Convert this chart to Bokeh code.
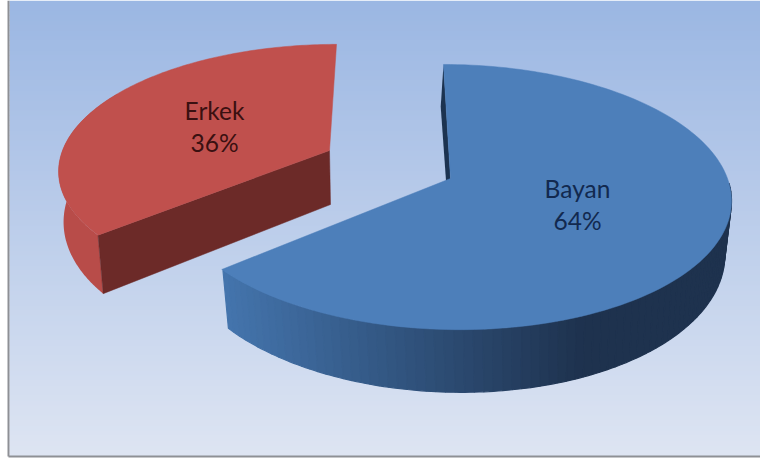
import numpy as np
from bokeh.plotting import figure
from bokeh.embed import file_html
from bokeh.resources import INLINE
from bokeh.core.properties import value

categories = ["Bayan", "Erkek"]
percents = [64, 36]

WIDTH, HEIGHT = 760, 459
TILT = 0.14  # perspective strength of the pie plane


def plane(cx, cy, rx, ry, shear):
    """Map unit-disc coordinates of one pie plane on to the page."""
    def project(u, v):
        w = 1 + TILT * v
        return cx + (rx * u + shear * v) / w, cy - ry * v / w
    return project


def rim(start, stop, n=140):
    ang = np.radians(np.linspace(start, stop, n))
    return np.sin(ang), np.cos(ang)


def wedge(project, start, stop):
    u, v = rim(start, stop)
    x, y = project(u, v)
    return np.r_[project(0, 0)[0], x], np.r_[project(0, 0)[1], y]


p = figure(width=WIDTH, height=HEIGHT, x_range=(0, WIDTH), y_range=(HEIGHT, 0),
           toolbar_location=None, output_backend="svg", min_border=0,
           outline_line_color=None)
p.axis.visible = False
p.grid.visible = False
p.background_fill_color = "white"

# Chart area: vertical gradient inside a thin grey frame
bg_top, bg_bot = np.array([155, 183, 227]), np.array([222, 229, 243])
L, R, B = 9, WIDTH, 455
edges = np.linspace(0, B, 92)
mix = (edges[:-1] + edges[1:]) / 2 / B
bg_cols = ["#%02x%02x%02x" % tuple(int(c) for c in bg_top + (bg_bot - bg_top) * m) for m in mix]
p.quad(left=L, right=R, top=edges[:-1], bottom=edges[1:] + 0.5,
       fill_color=bg_cols, line_color=None)
p.line([L - 1, L - 1], [0, B + 1], line_color="#8e9095", line_width=2)
p.line([L - 1, WIDTH], [B + 1, B + 1], line_color="#8e9095", line_width=2)

shares = np.array(percents) / sum(percents) * 360
a0, a1 = 0.0, float(shares[0])

# Bayan slice: top and bottom planes of the extruded disc
b_top = plane(450, 178, 277, 130, -8)
b_bot = plane(449, 229, 271, 140, -10)

# Inner wall seen as a thin sliver beside the top corner
wx = [b_top(0, 1)[0], b_top(0, 0)[0], b_bot(0, 0)[0], b_bot(0, 1)[0]]
wy = [b_top(0, 1)[1], b_top(0, 0)[1], b_bot(0, 0)[1], b_bot(0, 1)[1]]
p.patch(wx, wy, fill_color="#1c3350", line_color=None)

# Curved side, shaded strip by strip from left to right
side_left, side_right = np.array([68, 116, 172]), np.array([30, 50, 78])
angs = np.linspace(a1 - 0.4, 92, 80)
xs, ys, cols = [], [], []
for i in range(len(angs) - 1):
    u, v = rim(angs[i], angs[i + 1], 3)
    tx, ty = b_top(u, v)
    bx, by = b_bot(u, v)
    xs.append(np.r_[tx, bx[::-1]])
    ys.append(np.r_[ty, by[::-1]])
    t = min(1.0, (tx[0] - 226) / (580 - 226))
    c = side_left + (side_right - side_left) * t
    cols.append("#%02x%02x%02x" % tuple(int(k) for k in c))
p.patches(xs, ys, fill_color=cols, line_color=cols, line_width=1.2)

x, y = wedge(b_top, a0, a1)
p.patch(x, y, fill_color="#4d7fba", line_color="#4d7fba", line_width=0.5)

# Erkek slice, pulled away from the centre
e_top = plane(329, 150, 267, 121, 8)
e_bot = plane(335, 198, 268, 136, 8)

u, v = rim(a1, 300)
tx, ty = e_top(u, v)
bx, by = e_bot(u, v)
p.patch(np.r_[tx, bx[::-1]], np.r_[ty, by[::-1]], fill_color="#b84c49", line_color=None)

# Flat cut face, running from the rim back to the slice's inner corner
cu, cv = rim(a1, a1, 1)
ax, ay = e_top(0, 0)
fx = [e_top(cu, cv)[0][0], ax, ax + 1, e_bot(cu, cv)[0][0]]
fy = [e_top(cu, cv)[1][0], ay, ay + 54, e_bot(cu, cv)[1][0]]
p.patch(fx, fy, fill_color="#6c2a28", line_color="#6c2a28", line_width=0.5)

x, y = wedge(e_top, a1, a0 + 360)
p.patch(x, y, fill_color="#c0504d", line_color="#c0504d", line_width=0.5)

# Slice labels
label_x = [577, 214]
label_y = [204, 126]
label_col = ["#12294f", "#3a1011"]
for name, pct, lx, ly, col in zip(categories, percents, label_x, label_y, label_col):
    p.text([lx], [ly - 16], text=[name], text_font=value("Lato"), text_font_size="24.5px",
           text_color=col, text_align="center", text_baseline="middle")
    p.text([lx], [ly + 16], text=[f"{pct}%"], text_font=value("Lato"), text_font_size="24.5px",
           text_color=col, text_align="center", text_baseline="middle")

open("out.html", "w").write(file_html(p, INLINE))
